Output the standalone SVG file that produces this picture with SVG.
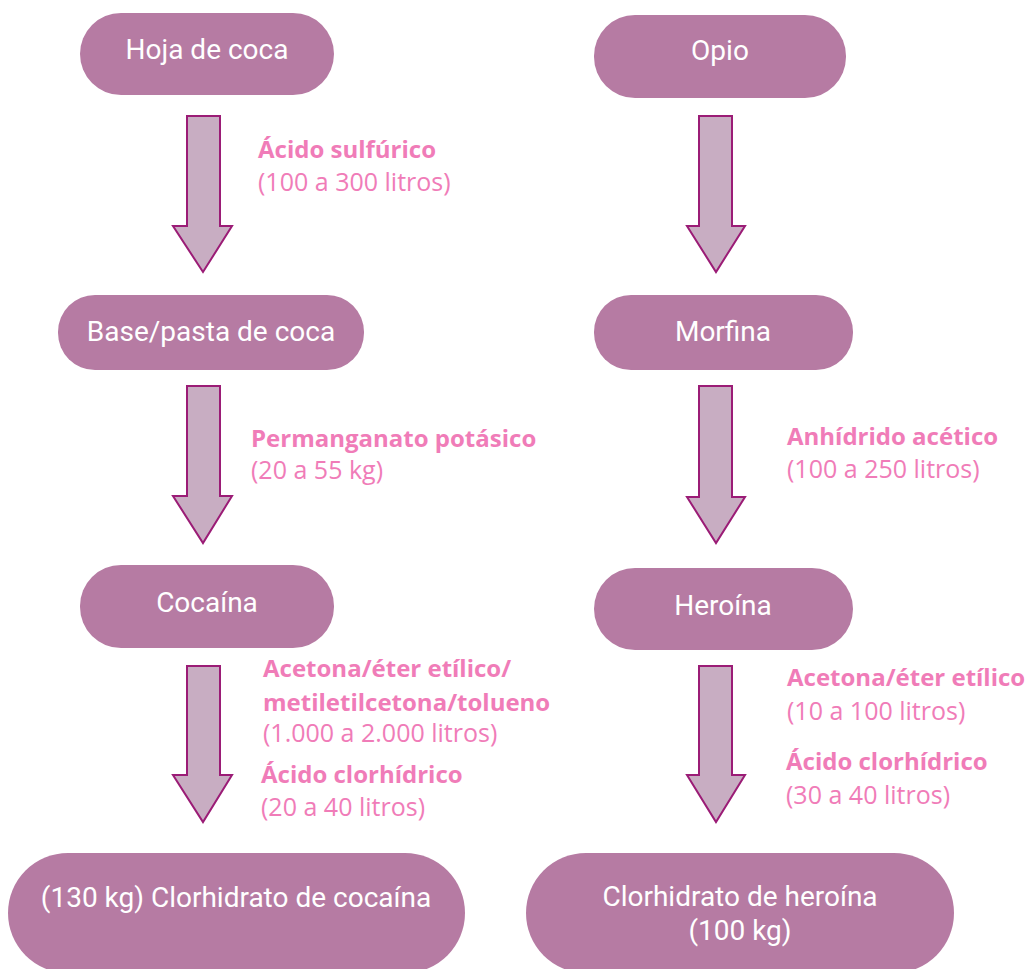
<svg xmlns="http://www.w3.org/2000/svg" width="1025" height="969" viewBox="0 0 1025 969">
<style>
.node rect{fill:#B67BA3;}
.node text{font-family:Roboto,"Liberation Sans",sans-serif;font-size:28px;fill:#FFFFFF;text-anchor:middle;}
.arrow{fill:#C8ADC2;stroke:#9B1C76;stroke-width:2;stroke-linejoin:miter;}
.lbl{font-family:"Open Sans","Noto Sans",sans-serif;font-size:25px;fill:#F07CB8;}
.b{font-weight:bold;font-size:24px;}
</style>
<rect width="1025" height="969" fill="#FFFFFF"/>
<g id="connectors">
<path class="arrow" d="M187,116 H220 V226 H232 L203,272 L173,226 H187 Z"/>
<path class="arrow" d="M699,116 H732 V226 H745 L716,272 L687,226 H699 Z"/>
<path class="arrow" d="M187,386 H220 V496 H232 L203,543 L173,496 H187 Z"/>
<path class="arrow" d="M699,386 H732 V497 H745 L716,543 L687,497 H699 Z"/>
<path class="arrow" d="M187,666 H220 V775 H232 L203,822 L173,775 H187 Z"/>
<path class="arrow" d="M699,666 H732 V775 H745 L716,822 L687,775 H699 Z"/>
</g>
<g id="labels">
<text class="lbl b" x="258" y="158">Ácido sulfúrico</text>
<text class="lbl" x="258" y="191">(100 a 300 litros)</text>
<text class="lbl b" x="251" y="447">Permanganato potásico</text>
<text class="lbl" x="251" y="479">(20 a 55 kg)</text>
<text class="lbl b" x="787" y="445">Anhídrido acético</text>
<text class="lbl" x="787" y="478">(100 a 250 litros)</text>
<text class="lbl b" x="263" y="677">Acetona/éter etílico/</text>
<text class="lbl b" x="263" y="711">metiletilcetona/tolueno</text>
<text class="lbl" x="263" y="742">(1.000 a 2.000 litros)</text>
<text class="lbl b" x="261" y="783">Ácido clorhídrico</text>
<text class="lbl" x="261" y="816">(20 a 40 litros)</text>
<text class="lbl b" x="787" y="686">Acetona/éter etílico</text>
<text class="lbl" x="787" y="720">(10 a 100 litros)</text>
<text class="lbl b" x="786" y="770">Ácido clorhídrico</text>
<text class="lbl" x="786" y="804">(30 a 40 litros)</text>
</g>
<g id="node-hoja" class="node"><rect x="80" y="13" width="254" height="82" rx="41"/><text x="207" y="59">Hoja de coca</text></g>
<g id="node-opio" class="node"><rect x="594" y="15" width="252" height="83" rx="41"/><text x="720" y="60">Opio</text></g>
<g id="node-base" class="node"><rect x="58" y="295" width="306" height="75" rx="37"/><text x="211" y="341">Base/pasta de coca</text></g>
<g id="node-morfina" class="node"><rect x="594" y="295" width="259" height="75" rx="37"/><text x="723" y="341">Morfina</text></g>
<g id="node-cocaina" class="node"><rect x="80" y="565" width="254" height="83" rx="41"/><text x="207" y="612">Cocaína</text></g>
<g id="node-heroina" class="node"><rect x="594" y="568" width="259" height="82" rx="41"/><text x="723" y="615">Heroína</text></g>
<g id="node-clorhidrato-cocaina" class="node"><rect x="8" y="853" width="457" height="120" rx="60"/><text x="236" y="907">(130 kg) Clorhidrato de cocaína</text></g>
<g id="node-clorhidrato-heroina" class="node"><rect x="526" y="853" width="428" height="120" rx="60"/><text x="740" y="906">Clorhidrato de heroína</text><text x="740" y="940">(100 kg)</text></g>
</svg>
